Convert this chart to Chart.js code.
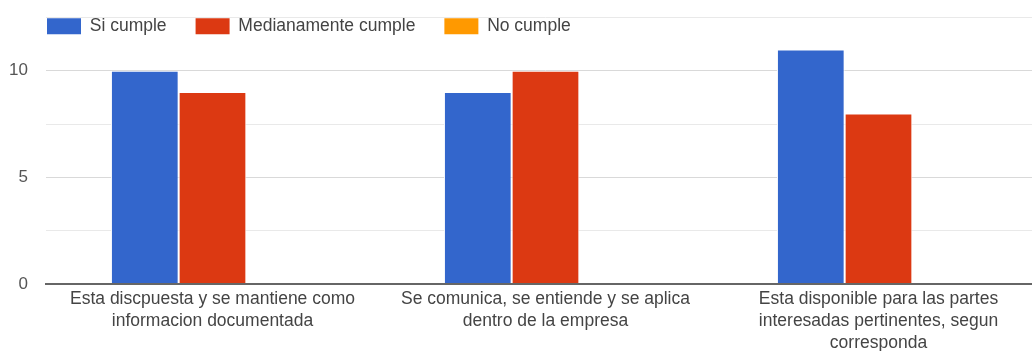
<!DOCTYPE html>
<html>
<head>
<meta charset="utf-8">
<script src="https://cdn.jsdelivr.net/npm/chart.js@4/dist/chart.umd.min.js"></script>
<style>
  html, body { margin: 0; padding: 0; background: #fff; overflow: hidden; }
  #wrap { width: 1045px; height: 360px; }
</style>
</head>
<body>
<div id="wrap"><canvas id="myChart" width="1045" height="360"></canvas></div>
<script>
// categories (wrapped onto lines) and answers per category
let labels = [
    ["Esta discpuesta y se mantiene como", "informacion documentada"],
    ["Se comunica, se entiende y se aplica", "dentro de la empresa"],
    ["Esta disponible para las partes", "interesadas pertinentes, segun", "corresponda"],
];
let siCumple = [10, 9, 11];
let medianamenteCumple = [9, 10, 8];
let noCumple = [0, 0, 0];
let yMax = 12.5;
let yStep = 2.5;

Chart.defaults.font.family = "'Liberation Sans', Arial, sans-serif";
Chart.defaults.font.size = 17.5;
Chart.defaults.color = "#444";

// legend is drawn over the top strip of the plot area instead of above it
const legendOverlay = {
    id: "legendOverlay",
    beforeInit(chart) {
        const legend = chart.legend;
        const fit = legend.fit;
        legend.fit = function () {
            fit.call(this);
            this.height = 17.5;
        };
    },
    afterLayout(chart) {
        const legend = chart.legend;
        const pad = legend.options.labels.padding;
        legend.top = 17.5 - pad;
        legend.bottom = legend.top + 80;
        legend.left = 47 - pad;
    },
};

const ctx = document.getElementById("myChart");
const myChart = new Chart(ctx, {
    type: "bar",
    data: {
        labels: labels,
        datasets: [
            {
                label: "Si cumple",
                data: siCumple,
                backgroundColor: "#3366cc",
                borderColor: "#fff",
                borderWidth: 1,
            },
            {
                label: "Medianamente cumple",
                data: medianamenteCumple,
                backgroundColor: "#dc3912",
                borderColor: "#fff",
                borderWidth: 1,
            },
            {
                label: "No cumple",
                data: noCumple,
                backgroundColor: "#ff9900",
                borderWidth: 0,
            },
        ],
    },
    options: {
        responsive: false,
        animation: false,
        categoryPercentage: 0.61,
        barPercentage: 1,
        layout: { padding: 0 },
        plugins: {
            legend: {
                position: "top",
                align: "start",
                labels: {
                    boxWidth: 34,
                    boxHeight: 16,
                    padding: 29,
                    color: "#444",
                    font: { size: 17.5 },
                    generateLabels(chart) {
                        return Chart.defaults.plugins.legend.labels
                            .generateLabels(chart)
                            .map((item) => Object.assign(item, { lineWidth: 0 }));
                    },
                },
            },
            tooltip: { enabled: false },
        },
        scales: {
            x: {
                grid: { display: false, drawTicks: false },
                border: { display: true, color: "#666", width: 2, z: 1 },
                ticks: {
                    padding: 4,
                    maxRotation: 0,
                    autoSkip: false,
                    color: "#444",
                    font: { size: 17.5, lineHeight: "22px" },
                },
                afterFit(scale) {
                    scale.height = 76;
                },
            },
            y: {
                min: 0,
                max: yMax,
                border: { display: false },
                grid: {
                    drawTicks: false,
                    color: (c) => (c.tick.value === 0 ? "rgba(0,0,0,0)" : c.tick.value % 5 === 0 ? "#d9d9d9" : "#e9e9e9"),
                },
                ticks: {
                    stepSize: yStep,
                    padding: 18,
                    color: "#555",
                    font: { size: 17 },
                    callback: (v) => (v % 5 === 0 ? v : ""),
                },
                afterFit(scale) {
                    scale.width = 46;
                    scale.paddingTop = 0;
                    scale.paddingBottom = 0;
                },
            },
        },
    },
    plugins: [legendOverlay],
});
</script>
</body>
</html>
